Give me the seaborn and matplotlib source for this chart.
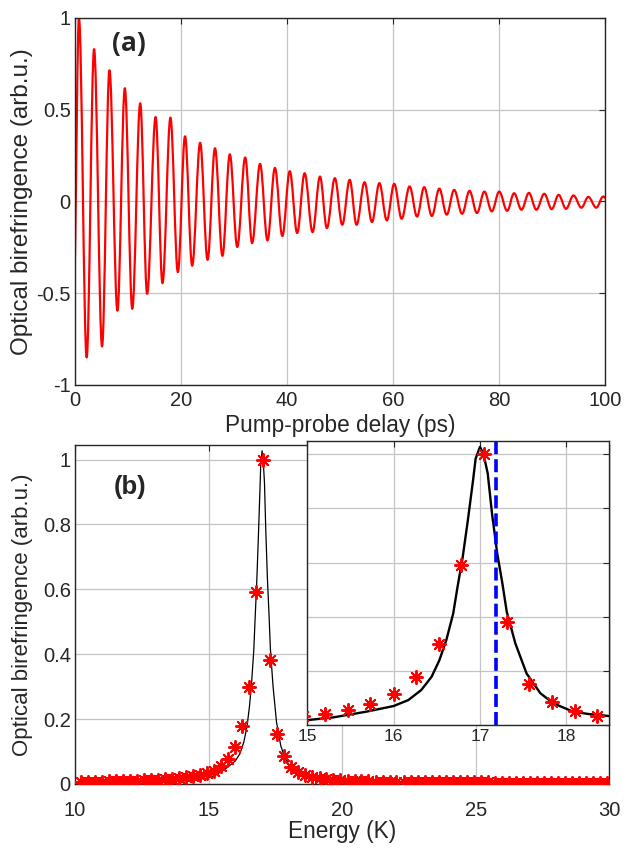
import matplotlib
matplotlib.use("Agg")
import matplotlib.pyplot as plt
import seaborn as sns
from matplotlib.path import Path
from matplotlib.patches import PathPatch

# ---- panel (a): extrema of the oscillation ----
delay_ps = [0.0, 0.75, 2.2, 3.6, 5.1, 6.5, 8.0, 9.4, 10.8, 12.3, 13.6, 15.2, 16.5, 18.0,
            19.4, 20.75, 22.1, 23.6, 25.0, 26.4, 27.8, 29.2, 30.6, 32.1, 33.4, 34.9,
            36.3, 37.7, 39.1, 40.5, 41.9, 43.3, 44.8, 46.2, 47.5, 49.0, 50.4, 51.8,
            53.1, 54.6, 56.0, 57.4, 58.8, 60.2, 61.6, 63.1, 64.5, 65.85, 67.3, 68.7,
            70.1, 71.5, 73.0, 74.4, 75.8, 77.2, 78.6, 80.0, 81.5, 82.8, 84.2, 85.6,
            87.0, 88.5, 89.9, 91.2, 92.6, 94.0, 95.5, 96.8, 98.3, 99.6, 100.0]
birefringence_a = [-0.30, 1.00, -0.85, 0.83, -0.79, 0.715, -0.595, 0.617, -0.585, 0.535,
                   -0.503, 0.46, -0.445, 0.457, -0.385, 0.355, -0.35, 0.32, -0.318, 0.29,
                   -0.296, 0.257, -0.248, 0.24, -0.227, 0.205, -0.212, 0.183, -0.188,
                   0.165, -0.172, 0.154, -0.167, 0.136, -0.145, 0.127, -0.127, 0.118,
                   -0.127, 0.105, -0.112, 0.10, -0.103, 0.096, -0.094, 0.082, -0.082,
                   0.078, -0.079, 0.07, -0.072, 0.063, -0.067, 0.058, -0.063, 0.054,
                   -0.054, 0.054, -0.051, 0.045, -0.045, 0.047, -0.045, 0.042, -0.042,
                   0.036, -0.04, 0.033, -0.034, 0.025, -0.034, 0.027, 0.02]
a_xticks = [0, 20, 40, 60, 80, 100]
a_yticks = [-1, -0.5, 0, 0.5, 1]
a_yticklabels = ["-1", "-0.5", "0", "0.5", "1"]

# ---- panel (b): measured points and fitted curve ----
energy_pts = [10.22, 10.48, 10.75, 11.01, 11.27, 11.53, 11.80, 12.06, 12.32, 12.58,
              12.85, 13.11, 13.37, 13.63, 13.90, 14.16, 14.42, 14.68, 14.95, 15.21,
              15.47, 15.73, 16.00, 16.26, 16.52, 16.78, 17.05, 17.31, 17.57, 17.83,
              18.10, 18.36, 18.62, 18.88, 19.15, 19.41, 19.67, 19.93, 20.20, 20.46,
              20.72, 20.98, 21.25, 21.51, 21.77, 22.03, 22.30, 22.56, 22.82, 23.08,
              23.35, 23.61, 23.87, 24.13, 24.40, 24.66, 24.92, 25.18, 25.45, 25.71,
              25.97, 26.23, 26.50, 26.76, 27.02, 27.28, 27.55, 27.81, 28.07, 28.33,
              28.60, 28.86, 29.12, 29.38, 29.65, 29.91]
birefringence_pts = [0.006, 0.006, 0.007, 0.007, 0.008, 0.008, 0.009, 0.010, 0.010, 0.011,
                     0.012, 0.013, 0.015, 0.016, 0.018, 0.021, 0.024, 0.028, 0.034, 0.041,
                     0.056, 0.078, 0.115, 0.178, 0.300, 0.593, 1.000, 0.382, 0.154, 0.087,
                     0.053, 0.036, 0.028, 0.022, 0.017, 0.014, 0.012, 0.011, 0.010, 0.009,
                     0.008, 0.008, 0.007, 0.007, 0.006, 0.006, 0.006, 0.006, 0.006, 0.006,
                     0.005, 0.005, 0.005, 0.005, 0.005, 0.005, 0.005, 0.005, 0.005, 0.004,
                     0.004, 0.004, 0.004, 0.004, 0.004, 0.004, 0.004, 0.004, 0.004, 0.004,
                     0.004, 0.004, 0.004, 0.004, 0.004, 0.004]
energy_fit = [10.0, 11.0, 12.0, 13.0, 14.0, 14.5, 15.0, 15.3, 15.68, 16.0, 16.17, 16.32,
              16.44, 16.53, 16.61, 16.69, 16.74, 16.80, 16.86, 16.92, 16.95, 17.0, 17.04,
              17.09, 17.14, 17.20, 17.26, 17.31, 17.41, 17.54, 17.70, 17.85, 18.08, 18.27,
              18.5, 19.0, 19.5, 20.0, 21.0, 22.0, 24.0, 27.0, 30.0]
birefringence_fit = [0.002, 0.003, 0.004, 0.006, 0.009, 0.013, 0.019, 0.029, 0.05, 0.071,
                     0.093, 0.13, 0.179, 0.24, 0.314, 0.412, 0.51, 0.62, 0.757, 0.904,
                     0.984, 1.027, 1.002, 0.929, 0.78, 0.634, 0.523, 0.419, 0.302, 0.191,
                     0.118, 0.081, 0.05, 0.041, 0.034, 0.02, 0.013, 0.009, 0.005, 0.003,
                     0.002, 0.0015, 0.001]
marker_energy = 17.18
b_xticks = [10, 15, 20, 25, 30]
b_yticks = [0, 0.2, 0.4, 0.6, 0.8, 1]
b_yticklabels = ["0", "0.2", "0.4", "0.6", "0.8", "1"]
inset_xticks = [15, 16, 17, 18]
inset_xticklabels = ["15", "16", "17", "18"]

sns.set_style("white")
plt.rcParams['font.family'] = ['Liberation Sans', 'DejaVu Sans']

grid_kw = dict(color="#c4c4c4", linewidth=0.9)
tick_color = "#262626"
star = (8, 2, 0)

fig = plt.figure(figsize=(6.35, 8.57), dpi=100)
ax1 = fig.add_axes([0.1181, 0.5508, 0.8351, 0.4282])
ax2 = fig.add_axes([0.1181, 0.0852, 0.8417, 0.3956])
ax3 = fig.add_axes([0.4839, 0.1537, 0.4759, 0.3321])

# panel (a): smooth curve through the read extrema (flat tangent at each extremum)
verts = [(delay_ps[0], birefringence_a[0])]
codes = [Path.MOVETO]
n = len(delay_ps)
for i in range(n - 1):
    t0, v0 = delay_ps[i], birefringence_a[i]
    t1, v1 = delay_ps[i + 1], birefringence_a[i + 1]
    h = 0.3634 * (t1 - t0)
    if i == 0:
        c0 = (t0 + (t1 - t0) / 3, v0 + (v1 - v0) / 3)
    else:
        c0 = (t0 + h, v0)
    if i == n - 2:
        c1 = (t1 - (t1 - t0) / 3, v1 - (v1 - v0) / 3)
    else:
        c1 = (t1 - h, v1)
    verts += [c0, c1, (t1, v1)]
    codes += [Path.CURVE4] * 3
ax1.add_patch(PathPatch(Path(verts, codes), fill=False, edgecolor=(1, 0, 0),
                        linewidth=1.6, joinstyle="round", capstyle="round"))
ax1.set_xlim(0, 100)
ax1.set_ylim(-1, 1)
ax1.set_xticks(a_xticks)
ax1.set_yticks(a_yticks)
ax1.set_yticklabels(a_yticklabels)
ax1.set_xlabel("Pump-probe delay (ps)", fontsize=16.3, color=tick_color)
ax1.set_ylabel("Optical birefringence (arb.u.)", fontsize=17.5, color=tick_color)
ax1.xaxis.set_label_coords(0.5, -0.08)
ax1.yaxis.set_label_coords(-0.079, 0.5)
ax1.text(10.2, 0.86, "(a)", fontsize=19, fontweight="bold", ha="center", va="center",
         family=["Open Sans", "DejaVu Sans"])

# panel (b)
sns.lineplot(x=energy_fit, y=birefringence_fit, ax=ax2, color="black", linewidth=0.9)
sns.scatterplot(x=energy_pts, y=birefringence_pts, ax=ax2, marker=star, color=(1, 0, 0),
                s=90, linewidth=1.4, zorder=3)
ax2.set_xlim(10, 30)
ax2.set_ylim(0, 1.045)
ax2.set_xticks(b_xticks)
ax2.set_yticks(b_yticks)
ax2.set_yticklabels(b_yticklabels)
ax2.set_xlabel("Energy (K)", fontsize=16.3, color=tick_color)
ax2.set_ylabel("Optical birefringence (arb.u.)", fontsize=16, color=tick_color)
ax2.xaxis.set_label_coords(0.5, -0.106)
ax2.yaxis.set_label_coords(-0.079, 0.5)
ax2.text(12.06, 0.914, "(b)", fontsize=18.5, fontweight="bold", ha="center", va="center",
         family=["Liberation Sans", "DejaVu Sans"])

# inset
sns.lineplot(x=energy_fit, y=birefringence_fit, ax=ax3, color="black", linewidth=1.7)
sns.scatterplot(x=energy_pts, y=birefringence_pts, ax=ax3, marker=star, color=(1, 0, 0),
                s=90, linewidth=1.4, zorder=3)
ax3.axvline(marker_energy, color=(0, 0, 1), linewidth=2.6, linestyle=(0, (3.6, 1.4)))
ax3.set_xlim(15, 18.5)
ax3.set_ylim(0, 1.05)
ax3.set_xticks(inset_xticks)
ax3.set_xticklabels(inset_xticklabels)
ax3.set_yticks(b_yticks)
ax3.set_yticklabels([])
ax3.set_xlabel("")
ax3.set_ylabel("")

for ax, fs, pad in [(ax1, 14.5, 4), (ax2, 14.5, 12), (ax3, 12.5, 3)]:
    ax.set_axisbelow(True)
    ax.grid(True, **grid_kw)
    ax.tick_params(direction="in", length=4, width=0.8, labelsize=fs,
                   labelcolor=tick_color, pad=3, top=True, right=True)
    ax.tick_params(axis="x", pad=pad)
    for sp in ax.spines.values():
        sp.set_color("#262626")
        sp.set_linewidth(1.0)
ax3.set_facecolor("white")
ax3.patch.set_alpha(1.0)

fig.savefig("out.png", dpi=100)
